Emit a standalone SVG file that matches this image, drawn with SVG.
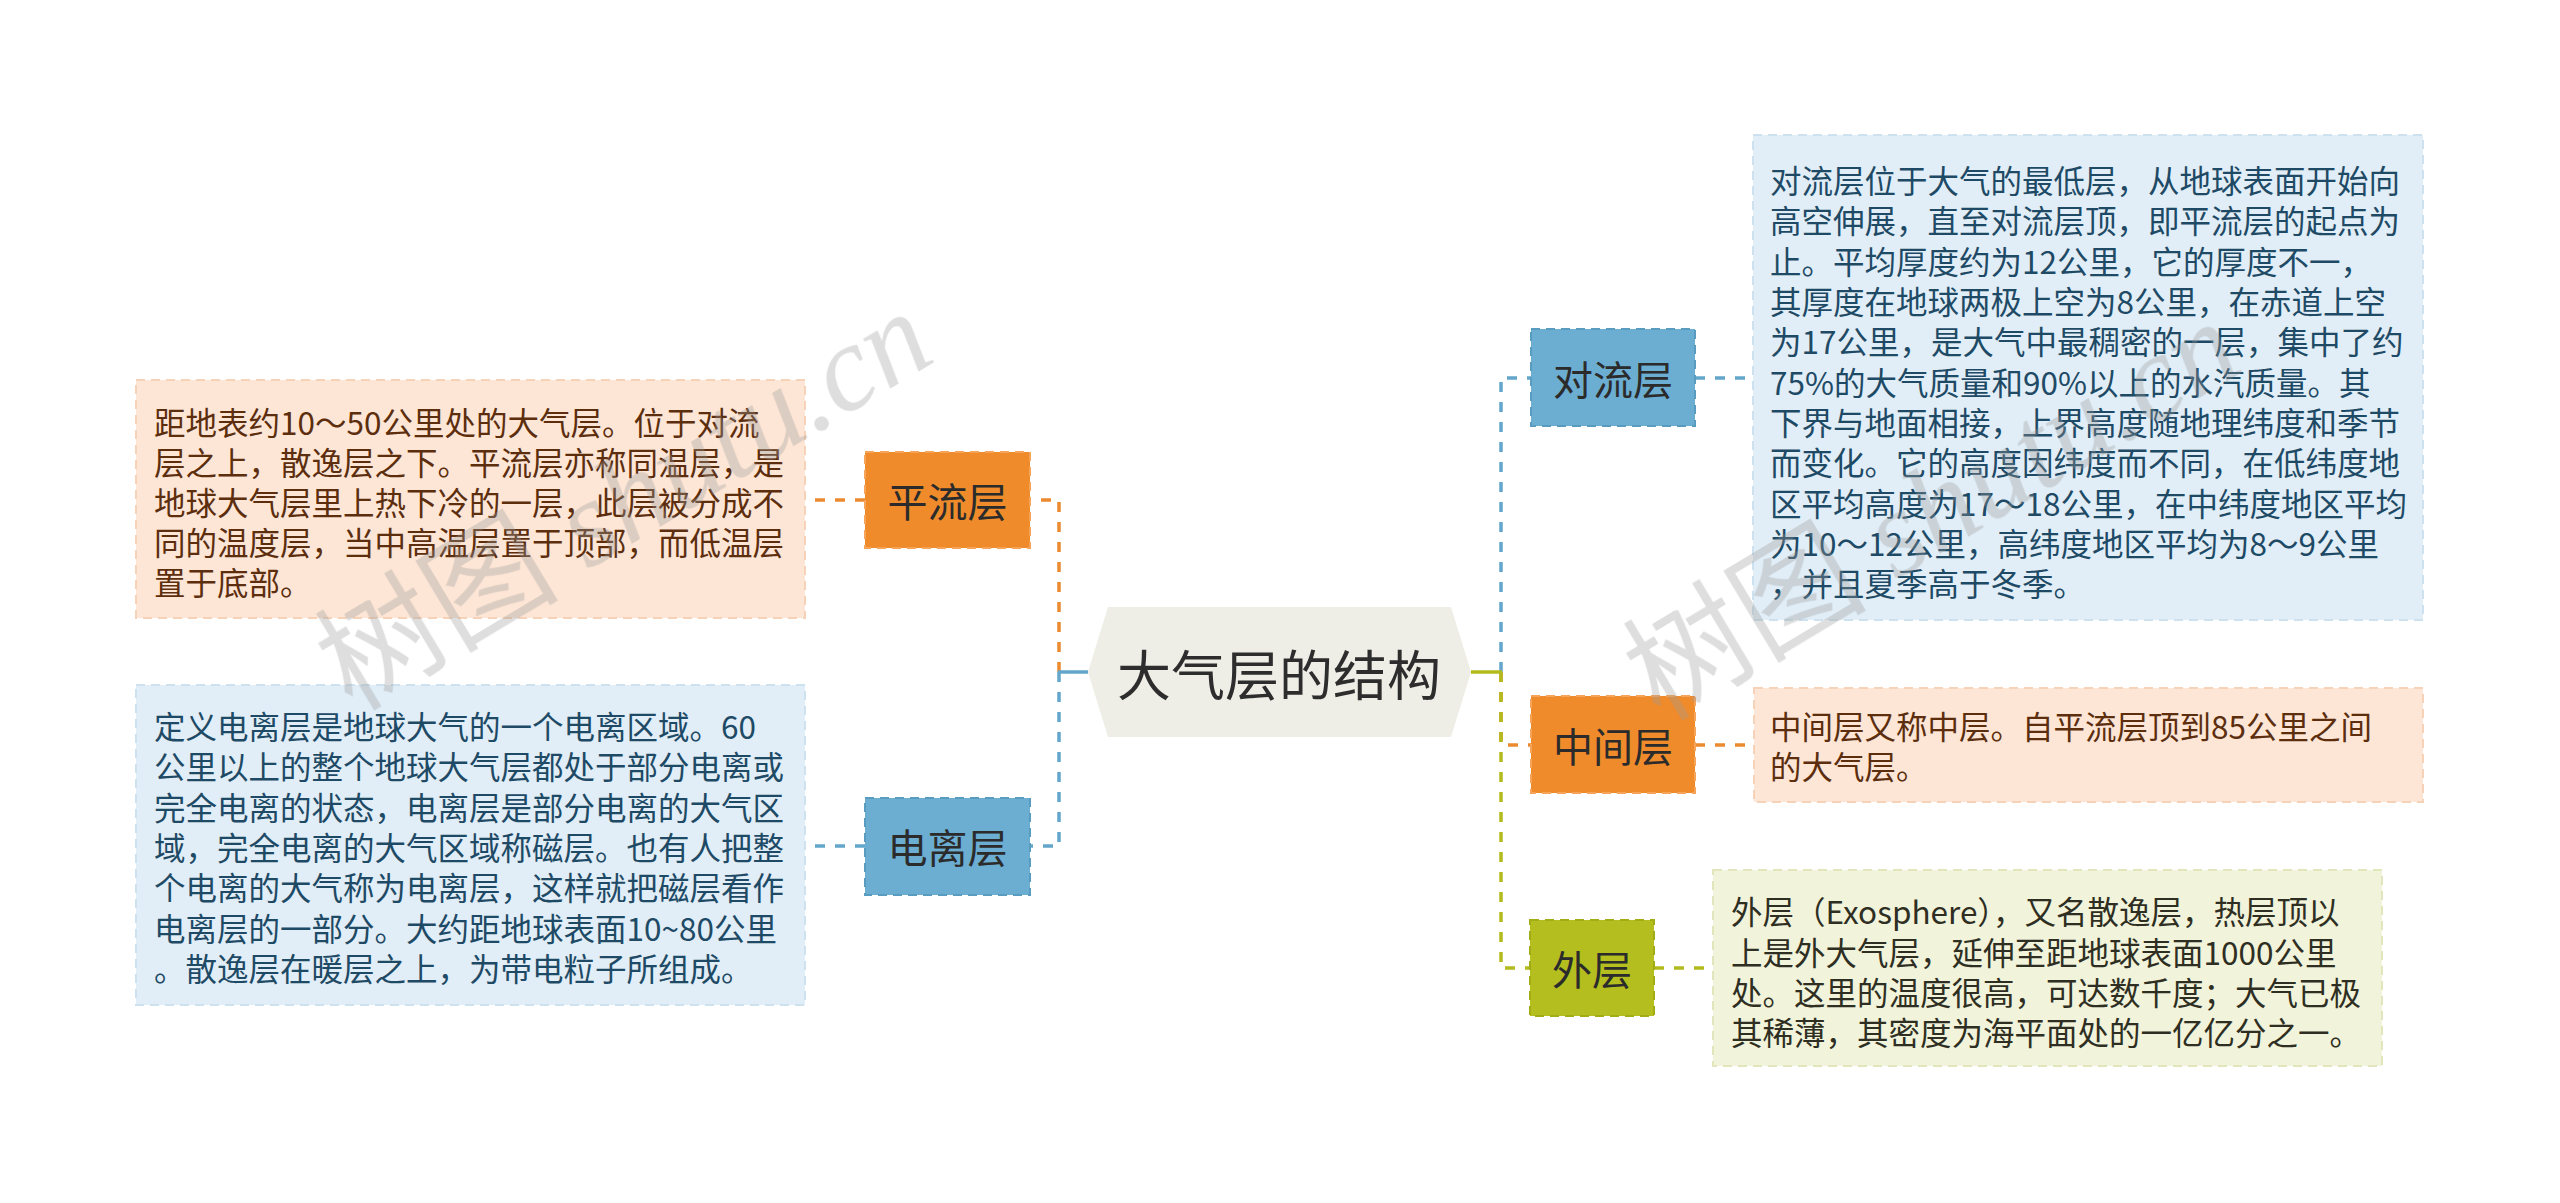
<svg xmlns="http://www.w3.org/2000/svg" width="2560" height="1203" viewBox="0 0 2560 1203">
<style>
.t{font-family:"Noto Sans CJK SC","Noto Sans",sans-serif;}
.lbl{font-size:40px;fill:#2b2b2b;text-anchor:middle;dominant-baseline:central;}
.body{font-size:31.5px;dominant-baseline:central;}
.bo{fill:#5c2e0e}
.bb{fill:#1e4a66}
.bg{fill:#2e2e22}
.c{fill:none;stroke-width:3.5;stroke-dasharray:10 10;}
.s{fill:none;stroke-width:3.5;}
.o{stroke:#ec8a30}
.b{stroke:#62a6cb}
.g{stroke:#b2bb1e}
.nb{stroke-width:2;stroke-dasharray:9 6;}
.tb{stroke-width:2;stroke-dasharray:9 6;}
</style>
<rect width="2560" height="1203" fill="#ffffff"/>

<g id="connectors">
  <path class="c o" d="M1059 672 V500 H1030"/>
  <path class="c b" d="M1059 672 V846 H1030"/>
  <path class="s b" d="M1088 672 H1058"/>
  <path class="c o" d="M865 500 H805"/>
  <path class="c b" d="M865 846 H805"/>
  <path class="c b" d="M1501 672 V378 H1531"/>
  <path class="c o" d="M1501 672 V745 H1531"/>
  <path class="c g" d="M1501 672 V968 H1530"/>
  <path class="s g" d="M1471 672 H1502"/>
  <path class="c b" d="M1695 378 H1753"/>
  <path class="c o" d="M1695 745 H1754"/>
  <path class="c g" d="M1654 968 H1713"/>
</g>

<g id="root">
  <polygon points="1088,672 1108,607 1451,607 1471,672 1451,737 1108,737" fill="#eeeee6"/>
  <text class="t" x="1279" y="672" font-size="54" fill="#2d2d2d" text-anchor="middle" dominant-baseline="central">大气层的结构</text>
</g>

<g id="node-pingliu">
  <rect x="865" y="452" width="165" height="96" fill="#f08b2b" stroke="#f6a45a" class="nb"/>
  <text class="t lbl" x="947.5" y="500">平流层</text>
</g>
<g id="note-pingliu">
  <rect x="136" y="380" width="669" height="238" fill="#fde6d6" stroke="#f6d2b8" class="tb"/>
  <text class="t body bo" x="154">
    <tspan x="154" y="421">距地表约10～50公里处的大气层。位于对流</tspan>
    <tspan x="154" y="461">层之上，散逸层之下。平流层亦称同温层，是</tspan>
    <tspan x="154" y="501">地球大气层里上热下冷的一层，此层被分成不</tspan>
    <tspan x="154" y="541">同的温度层，当中高温层置于顶部，而低温层</tspan>
    <tspan x="154" y="581">置于底部。</tspan>
  </text>
</g>

<g id="node-dianli">
  <rect x="865" y="798" width="165" height="97" fill="#6baed2" stroke="#5a9cc0" class="nb"/>
  <text class="t lbl" x="947.5" y="846">电离层</text>
</g>
<g id="note-dianli">
  <rect x="136" y="685" width="669" height="320" fill="#e1eef7" stroke="#cde1ee" class="tb"/>
  <text class="t body bb" x="154">
    <tspan x="154" y="725">定义电离层是地球大气的一个电离区域。60</tspan>
    <tspan x="154" y="765">公里以上的整个地球大气层都处于部分电离或</tspan>
    <tspan x="154" y="806">完全电离的状态，电离层是部分电离的大气区</tspan>
    <tspan x="154" y="846">域，完全电离的大气区域称磁层。也有人把整</tspan>
    <tspan x="154" y="886">个电离的大气称为电离层，这样就把磁层看作</tspan>
    <tspan x="154" y="927">电离层的一部分。大约距地球表面10~80公里</tspan>
    <tspan x="154" y="967">。散逸层在暖层之上，为带电粒子所组成。</tspan>
  </text>
</g>

<g id="node-duiliu">
  <rect x="1531" y="329" width="164" height="97" fill="#6baed2" stroke="#5a9cc0" class="nb"/>
  <text class="t lbl" x="1613" y="378">对流层</text>
</g>
<g id="note-duiliu">
  <rect x="1753" y="135" width="670" height="485" fill="#e1eef7" stroke="#cde1ee" class="tb"/>
  <text class="t body bb" x="1770">
    <tspan x="1770" y="179">对流层位于大气的最低层，从地球表面开始向</tspan>
    <tspan x="1770" y="219">高空伸展，直至对流层顶，即平流层的起点为</tspan>
    <tspan x="1770" y="260">止。平均厚度约为12公里，它的厚度不一，</tspan>
    <tspan x="1770" y="300">其厚度在地球两极上空为8公里，在赤道上空</tspan>
    <tspan x="1770" y="340">为17公里，是大气中最稠密的一层，集中了约</tspan>
    <tspan x="1770" y="381">75%的大气质量和90%以上的水汽质量。其</tspan>
    <tspan x="1770" y="421">下界与地面相接，上界高度随地理纬度和季节</tspan>
    <tspan x="1770" y="461">而变化。它的高度因纬度而不同，在低纬度地</tspan>
    <tspan x="1770" y="502">区平均高度为17～18公里，在中纬度地区平均</tspan>
    <tspan x="1770" y="542">为10～12公里，高纬度地区平均为8～9公里</tspan>
    <tspan x="1770" y="582">，并且夏季高于冬季。</tspan>
  </text>
</g>

<g id="node-zhongjian">
  <rect x="1531" y="696" width="164" height="97" fill="#f08b2b" stroke="#f6a45a" class="nb"/>
  <text class="t lbl" x="1613" y="745">中间层</text>
</g>
<g id="note-zhongjian">
  <rect x="1754" y="688" width="669" height="114" fill="#fde6d6" stroke="#f6d2b8" class="tb"/>
  <text class="t body bo" x="1770">
    <tspan x="1770" y="725">中间层又称中层。自平流层顶到85公里之间</tspan>
    <tspan x="1770" y="765">的大气层。</tspan>
  </text>
</g>

<g id="node-waiceng">
  <rect x="1530" y="920" width="124" height="96" fill="#b4be1e" stroke="#a2ac14" class="nb"/>
  <text class="t lbl" x="1592" y="968">外层</text>
</g>
<g id="note-waiceng">
  <rect x="1713" y="870" width="669" height="196" fill="#f1f3da" stroke="#e2e6bd" class="tb"/>
  <text class="t body bg" x="1731">
    <tspan x="1731" y="910">外层（Exosphere），又名散逸层，热层顶以</tspan>
    <tspan x="1731" y="951">上是外大气层，延伸至距地球表面1000公里</tspan>
    <tspan x="1731" y="991">处。这里的温度很高，可达数千度；大气已极</tspan>
    <tspan x="1731" y="1031">其稀薄，其密度为海平面处的一亿亿分之一。</tspan>
  </text>
</g>

<g id="watermark" fill="#9a9a9a" opacity="0.33" font-family="'Liberation Serif','Noto Sans CJK SC',serif" font-size="122">
  <text transform="translate(352,712) rotate(-31)"><tspan>树图</tspan><tspan font-style="italic"> shutu.cn</tspan></text>
  <text transform="translate(1660,722) rotate(-31)"><tspan>树图</tspan><tspan font-style="italic"> shutu.cn</tspan></text>
</g>
</svg>
